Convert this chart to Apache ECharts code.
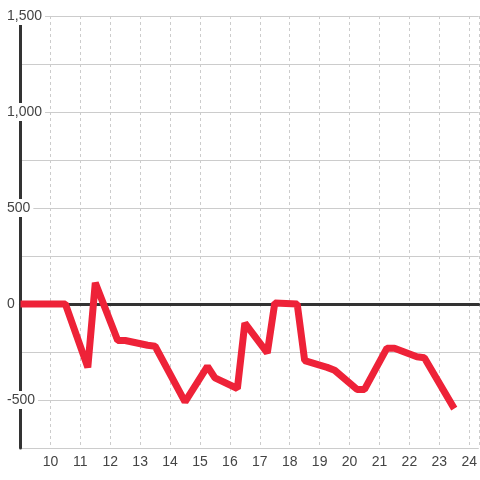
<!DOCTYPE html>
<html>
<head>
<meta charset="utf-8">
<script src="https://cdn.jsdelivr.net/npm/echarts@6/dist/echarts.min.js"></script>
<style>
  html, body { margin: 0; padding: 0; background: #fff; }
  #chart { width: 480px; height: 480px; }
</style>
</head>
<body>
<div id="chart"></div>
<script>
// hour of day and value
const hours = [9, 10.5, 11.25, 11.5, 12.25, 12.5, 13.25, 13.5, 14.5, 15.25, 15.5, 16.25, 16.5,
  17.25, 17.5, 18.25, 18.5, 19.25, 19.5, 20.25, 20.5, 21.25, 21.5, 22.25, 22.5, 23.5]
const values = [0, 0, -330, 110, -190, -190, -215, -220, -510, -325, -385, -440, -100,
  -255, 5, 0, -295, -330, -345, -445, -445, -230, -230, -275, -280, -545]
const yLabelStep = 500

const points = hours.map((h, i) => [h, values[i]])

const myChart = echarts.init(document.getElementById('chart'))
myChart.setOption({
  animation: false,
  grid: { left: 20.5, right: 0, top: 16, bottom: 32, containLabel: false },
  xAxis: [
    {
      type: 'value',
      min: 9,
      max: 24.32,
      interval: 1,
      axisLine: { show: false, onZero: false },
      axisTick: { show: false },
      axisLabel: {
        color: '#444', fontSize: 14, fontFamily: 'Liberation Sans', margin: 7,
        showMinLabel: false, showMaxLabel: false
      },
      splitLine: { show: true, lineStyle: { color: '#ccc', type: [3, 3] } }
    },
    {
      // zero line
      type: 'value',
      position: 'bottom',
      min: 9,
      max: 24.32,
      axisLine: { show: true, onZero: true, lineStyle: { color: '#333', width: 3 } },
      axisTick: { show: false },
      axisLabel: { show: false },
      splitLine: { show: false }
    }
  ],
  yAxis: {
    type: 'value',
    min: -750,
    max: 1500,
    interval: 250,
    axisLine: { show: true, lineStyle: { color: '#333', width: 3 } },
    axisTick: { show: false },
    axisLabel: {
      formatter: v => (v % yLabelStep === 0 ? v.toLocaleString('en-US') : ''),
      color: '#444',
      fontSize: 14,
      fontFamily: 'Liberation Sans',
      align: 'left',
      margin: 16.5,
      backgroundColor: '#fff',
      padding: [2, 3]
    },
    splitLine: { lineStyle: { color: '#ccc', width: 1 } }
  },
  series: [
    {
      type: 'line',
      data: points,
      showSymbol: false,
      lineStyle: { color: '#ee2238', width: 7 },
      z: 5
    }
  ]
})
</script>
</body>
</html>
